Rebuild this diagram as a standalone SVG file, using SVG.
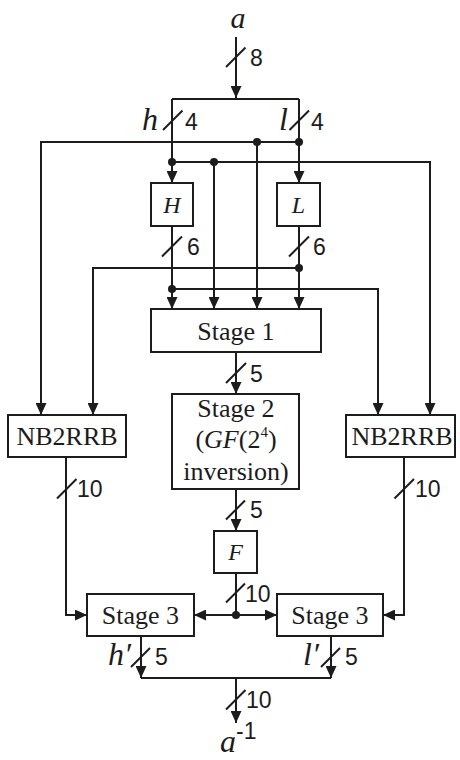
<svg xmlns="http://www.w3.org/2000/svg" width="460" height="760" viewBox="0 0 460 760">
<style>
.box{fill:#fff;stroke:#1c1c1c;stroke-width:2}
.ln{fill:none;stroke:#1c1c1c;stroke-width:2}
.arr{marker-end:url(#ah)}
.sl{stroke:#1c1c1c;stroke-width:2}
.dot{fill:#1c1c1c}
.t{font-family:"Liberation Serif","Times New Roman",serif;font-size:26px;fill:#1c1c1c;text-anchor:middle}
.it{font-family:"Liberation Serif","Times New Roman",serif;font-style:italic;fill:#1c1c1c}
.n{font-family:"Liberation Sans",Arial,sans-serif;font-size:23px;fill:#1c1c1c}
</style>
<defs>
<marker id="ah" viewBox="0 0 12 11" refX="12" refY="5.5" markerWidth="12" markerHeight="11" orient="auto" markerUnits="userSpaceOnUse">
<path d="M0,0 L12,5.5 L0,11 z" fill="#1c1c1c"/>
</marker>
</defs>

<g id="input">
<text class="it" x="238" y="28" font-size="30" text-anchor="middle">a</text>
</g>

<g id="connectors">
<path class="ln arr" d="M236,37 V98"/>
<path class="ln" d="M172,99 H299"/>
<path class="ln arr" d="M172,99 V183"/>
<path class="ln arr" d="M299,99 V183"/>
<path class="ln arr" d="M299,142 H41 V415"/>
<path class="ln arr" d="M257,142 V309"/>
<path class="ln arr" d="M172,162 H430 V415"/>
<path class="ln arr" d="M214,162 V309"/>
<path class="ln arr" d="M172,226 V309"/>
<path class="ln arr" d="M299,226 V309"/>
<path class="ln arr" d="M299,268 H93 V415"/>
<path class="ln arr" d="M172,289 H378 V415"/>
<path class="ln arr" d="M236,352 V394"/>
<path class="ln arr" d="M236,489 V531"/>
<path class="ln" d="M236,573 V615"/>
<path class="ln arr" d="M236,615 H194"/>
<path class="ln arr" d="M236,615 H277"/>
<path class="ln arr" d="M66,457 V615 H87"/>
<path class="ln arr" d="M404,457 V615 H383"/>
<path class="ln arr" d="M141,636 V678"/>
<path class="ln arr" d="M331,636 V678"/>
<path class="ln" d="M141,678 H331"/>
<path class="ln arr" d="M236,678 V723"/>
<circle class="dot" cx="257" cy="142" r="4"/>
<circle class="dot" cx="299" cy="142" r="4"/>
<circle class="dot" cx="172" cy="162" r="4"/>
<circle class="dot" cx="214" cy="162" r="4"/>
<circle class="dot" cx="299" cy="268" r="4"/>
<circle class="dot" cx="172" cy="289" r="4"/>
<circle class="dot" cx="236" cy="615" r="4"/>
<line class="sl" x1="226" y1="67" x2="245.5" y2="47.5"/>
<line class="sl" x1="163" y1="130" x2="182.5" y2="110.5"/>
<line class="sl" x1="289.5" y1="130" x2="309" y2="110.5"/>
<line class="sl" x1="162" y1="256.5" x2="182" y2="236.5"/>
<line class="sl" x1="289" y1="256.5" x2="309" y2="236.5"/>
<line class="sl" x1="226" y1="383" x2="246" y2="363"/>
<line class="sl" x1="226" y1="519.5" x2="245" y2="500.5"/>
<line class="sl" x1="226" y1="602.5" x2="245" y2="583.5"/>
<line class="sl" x1="57" y1="498.5" x2="76.5" y2="479"/>
<line class="sl" x1="394.5" y1="498.5" x2="414" y2="479"/>
<line class="sl" x1="131" y1="667" x2="150" y2="648"/>
<line class="sl" x1="321" y1="667" x2="340" y2="648"/>
<line class="sl" x1="226" y1="709.5" x2="245.5" y2="690"/>
</g>

<g id="labels">
<text class="n" x="250" y="66">8</text>
<text class="it" x="158" y="130" font-size="32" text-anchor="end">h</text>
<text class="n" x="185" y="130">4</text>
<text class="it" x="288" y="130" font-size="32" text-anchor="end">l</text>
<text class="n" x="311" y="130">4</text>
<text class="n" x="187" y="255">6</text>
<text class="n" x="313" y="255">6</text>
<text class="n" x="250" y="382">5</text>
<text class="n" x="250" y="518">5</text>
<text class="n" x="245" y="602">10</text>
<text class="n" x="77" y="497">10</text>
<text class="n" x="415" y="497">10</text>
<text class="it" x="131" y="665" font-size="32" text-anchor="end">h′</text>
<text class="n" x="155" y="665">5</text>
<text class="it" x="319" y="665" font-size="32" text-anchor="end">l′</text>
<text class="n" x="345" y="665">5</text>
<text class="n" x="246" y="708">10</text>
</g>

<g id="H">
<rect class="box" x="151" y="183" width="42" height="43"/>
<text class="it" x="172" y="213" font-size="24" text-anchor="middle">H</text>
</g>
<g id="L">
<rect class="box" x="277" y="183" width="43" height="43"/>
<text class="it" x="298.5" y="213" font-size="24" text-anchor="middle">L</text>
</g>
<g id="stage1">
<rect class="box" x="151" y="309" width="170" height="43"/>
<text class="t" x="236" y="340">Stage 1</text>
</g>
<g id="nb2rrb-left">
<rect class="box" x="8" y="415" width="118" height="42"/>
<text class="t" x="67" y="445">NB2RRB</text>
</g>
<g id="stage2">
<rect class="box" x="172" y="394" width="127" height="95"/>
<text class="t" x="236" y="417">Stage 2</text>
<text class="t" x="236" y="448">(<tspan font-style="italic">GF</tspan>(2<tspan font-size="15" dy="-11">4</tspan><tspan dy="11">)</tspan></text>
<text class="t" x="236" y="480">inversion)</text>
</g>
<g id="nb2rrb-right">
<rect class="box" x="346" y="415" width="109" height="42"/>
<text class="t" x="402" y="445">NB2RRB</text>
</g>
<g id="F">
<rect class="box" x="214" y="531" width="43" height="42"/>
<text class="it" x="235.5" y="560" font-size="24" text-anchor="middle">F</text>
</g>
<g id="stage3-left">
<rect class="box" x="87" y="594" width="107" height="42"/>
<text class="t" x="140.5" y="624">Stage 3</text>
</g>
<g id="stage3-right">
<rect class="box" x="277" y="594" width="106" height="42"/>
<text class="t" x="330" y="624">Stage 3</text>
</g>
<g id="output">
<text class="it" x="228" y="752" font-size="32" text-anchor="middle">a</text>
<text class="n" x="236" y="739" font-size="14">-1</text>
</g>
</svg>
